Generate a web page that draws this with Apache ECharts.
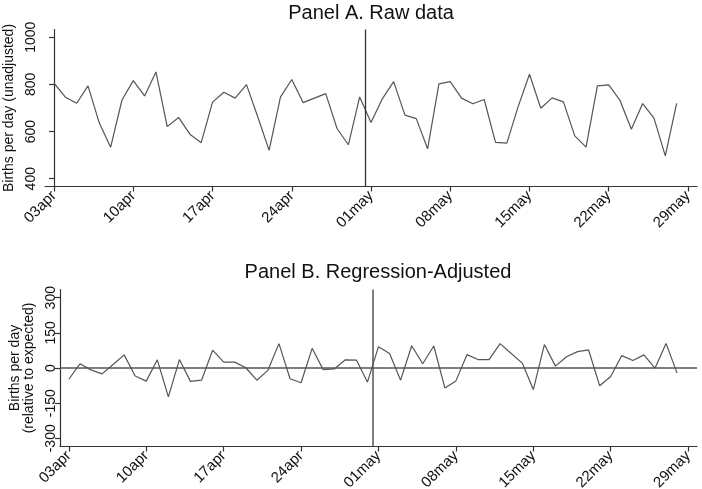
<!DOCTYPE html>
<html>
<head>
<meta charset="utf-8">
<script src="https://cdn.jsdelivr.net/npm/echarts@6/dist/echarts.min.js"></script>
<style>
html,body{margin:0;padding:0;background:#fff;}
#chart{width:702px;height:489px;}
</style>
</head>
<body>
<div id="chart"></div>
<script>
// Dates: 03apr .. 28may (56 days), index 0..55
const xTickValues = [0, 7, 14, 21, 28, 35, 42, 49, 56];
const xTickLabels = ["03apr", "10apr", "17apr", "24apr", "01may", "08may", "15may", "22may", "29may"];
const cutoffDay = 27.5;

const rawBirths = [
  805, 746, 720, 794, 636, 534, 734, 816, 751, 853,
  621, 660, 589, 553, 725, 767, 742, 799, 662, 520,
  746, 821, 723, 742, 761, 613, 544, 747, 638, 739,
  812, 670, 655, 527, 802, 812, 742, 718, 736, 554,
  551, 706, 843, 699, 743, 726, 582, 534, 794, 798,
  732, 610, 719, 657, 497, 720
];

const adjBirths = [
  -48, 18, -8, -25, 15, 56, -34, -56, 35, -123,
  36, -57, -52, 76, 25, 25, 1, -52, -10, 104,
  -46, -63, 84, -7, -4, 35, 34, -60, 91, 62,
  -52, 95, 18, 94, -85, -55, 57, 36, 36, 104,
  62, 21, -92, 100, 8, 48, 70, 77, -76, -36,
  53, 32, 56, -1, 105, -22
];

const yTicksA = [400, 600, 800, 1000];
const yTicksB = [-300, -150, 0, 150, 300];

const toPairs = arr => arr.map((v, i) => [i, v]);

const FONT = 'Liberation Sans, Arial, Helvetica, sans-serif';
const lineColor = '#555';
const axisColor = '#333';

function xAxisCfg(gridIndex) {
  return {
    type: 'value', gridIndex,
    min: -0.8, max: 56.8,
    axisLine: { show: true, onZero: false, lineStyle: { color: axisColor, width: 1.2 } },
    axisTick: { show: true, length: 5, customValues: xTickValues, lineStyle: { color: axisColor, width: 1.2 } },
    axisLabel: {
      customValues: xTickValues,
      rotate: 45, margin: 7,
      fontFamily: FONT, fontSize: 15, color: '#111',
      formatter: v => xTickLabels[xTickValues.indexOf(Math.round(v))] || ''
    },
    splitLine: { show: false }
  };
}

const chart = echarts.init(document.getElementById('chart'), null, { renderer: 'canvas' });
chart.setOption({
  backgroundColor: '#fff',
  animation: false,
  graphic: [
    { type: 'text', x: 371, y: 13, style: { text: 'Panel A. Raw data', font: '20px ' + FONT, fill: '#111', textAlign: 'center', textVerticalAlign: 'middle' } },
    { type: 'text', x: 378, y: 272, style: { text: 'Panel B. Regression-Adjusted', font: '20px ' + FONT, fill: '#111', textAlign: 'center', textVerticalAlign: 'middle' } }
  ],
  grid: [
    { left: 45, right: 5, top: 29.5, height: 157, containLabel: false, outerBoundsMode: 'none' },
    { left: 60, right: 5, top: 289.5, height: 157, containLabel: false, outerBoundsMode: 'none' }
  ],
  xAxis: [xAxisCfg(0), xAxisCfg(1)],
  yAxis: [
    {
      type: 'value', gridIndex: 0, min: 367, max: 1033,
      name: 'Births per day (unadjusted)', nameLocation: 'middle', nameGap: 25, nameRotate: 90,
      nameTextStyle: { fontFamily: FONT, fontSize: 14, color: '#111' },
      axisLine: { show: true, lineStyle: { color: axisColor, width: 1.2 } },
      axisTick: { show: true, length: 5, customValues: yTicksA, lineStyle: { color: axisColor, width: 1.2 } },
      axisLabel: { customValues: yTicksA, rotate: 90, margin: 7, fontFamily: FONT, fontSize: 14, color: '#111', formatter: v => String(v) },
      splitLine: { show: false }
    },
    {
      type: 'value', gridIndex: 1, min: -335, max: 335,
      name: 'Births per day\n(relative to expected)', nameLocation: 'middle', nameGap: 24, nameRotate: 90,
      nameTextStyle: { fontFamily: FONT, fontSize: 14, color: '#111', lineHeight: 14 },
      axisLine: { show: true, onZero: false, lineStyle: { color: axisColor, width: 1.2 } },
      axisTick: { show: true, length: 5, customValues: yTicksB, lineStyle: { color: axisColor, width: 1.2 } },
      axisLabel: { customValues: yTicksB, rotate: 90, margin: 2, fontFamily: FONT, fontSize: 14, color: '#111', formatter: v => String(v) },
      splitLine: { show: false }
    }
  ],
  series: [
    {
      type: 'line', xAxisIndex: 0, yAxisIndex: 0, data: toPairs(rawBirths),
      showSymbol: false, symbol: 'none',
      lineStyle: { color: lineColor, width: 1.2 },
      markLine: {
        silent: true, symbol: 'none', label: { show: false },
        lineStyle: { color: '#333', width: 1.3, type: 'solid' },
        data: [{ xAxis: cutoffDay }]
      }
    },
    {
      type: 'line', xAxisIndex: 1, yAxisIndex: 1, data: toPairs(adjBirths),
      showSymbol: false, symbol: 'none',
      lineStyle: { color: lineColor, width: 1.2 },
      markLine: {
        silent: true, symbol: 'none', label: { show: false },
        lineStyle: { color: '#555', width: 1.5, type: 'solid' },
        data: [{ xAxis: cutoffDay }, { yAxis: 0 }]
      }
    }
  ]
});
</script>
</body>
</html>
